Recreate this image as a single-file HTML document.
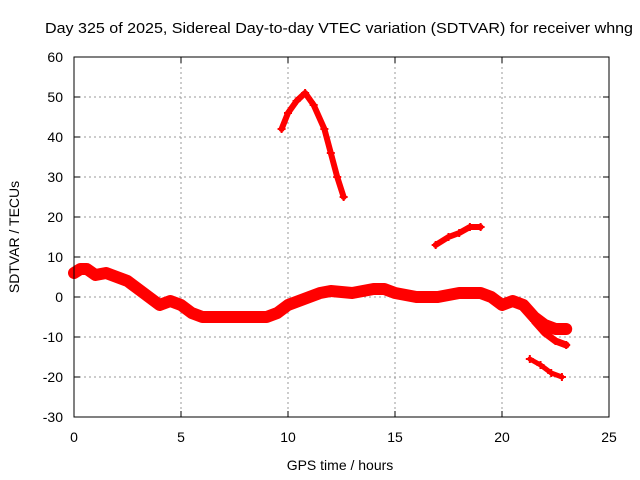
<!DOCTYPE html>
<html><head><meta charset="utf-8"><style>
body{margin:0;background:#fff}
svg{display:block;font-family:"Liberation Sans",sans-serif}
</style></head><body>
<svg id="c" width="640" height="480">
<rect width="640" height="480" fill="#fff"/>
<text x="45" y="33" font-size="15" textLength="588" lengthAdjust="spacingAndGlyphs">Day 325 of 2025, Sidereal Day-to-day VTEC variation (SDTVAR) for receiver whng</text>
<text x="340" y="470" font-size="14" text-anchor="middle">GPS time / hours</text>
<text transform="translate(19,237) rotate(-90)" font-size="14" text-anchor="middle">SDTVAR / TECUs</text>
<g id="grid"></g><g id="marks"></g>
<rect x="74" y="57" width="535" height="360" fill="none" stroke="#000"/>
</svg>
<script>
const xTicks=[0,5,10,15,20,25];
const yTicks=[-30,-20,-10,0,10,20,30,40,50,60];
const mainT=[0,0.3,0.6,1,1.5,2,2.5,3,3.5,4,4.5,5,5.5,6,7,8,9,9.5,10,10.5,11,11.5,12,13,14,14.5,15,16,17,18,19,19.5,20,20.5,21,21.5,22,22.5,23];
const mainV=[6,7,7,5.5,6,5,4,2,0,-2,-1,-2,-4,-5,-5,-5,-5,-4,-2,-1,0,1,1.5,1,2,2,1,0,0,1,1,0,-2,-1,-2,-5,-7,-8,-8];
const lowT=[21.5,22,22.5,23];
const lowV=[-6,-9,-11,-12];
const peakT=[9.7,10,10.4,10.8,11.2,11.7,12,12.3,12.6];
const peakV=[42,46,49,51,48,42,36,30,25];
const midT=[16.9,17.5,18,18.5,19];
const midV=[13,15,16,17.5,17.5];
const tailT=[21.3,21.8,22.3,22.8];
const tailV=[-15.5,-17,-19,-20];
const X=t=>74+t*535/25, Y=v=>297-v*4;
const ns="http://www.w3.org/2000/svg";
const g=document.getElementById('grid'),m=document.getElementById('marks');
function el(p,tag,a){const e=document.createElementNS(ns,tag);for(const k in a)e.setAttribute(k,a[k]);p.appendChild(e);return e;}
xTicks.forEach(t=>{
 if(t>0&&t<25){const l=el(g,'line',{x1:X(t),x2:X(t),y1:57,y2:417,stroke:'#999','stroke-dasharray':'2,3'});
 
 }
 el(g,'line',{x1:X(t),x2:X(t),y1:417,y2:411,stroke:'#000'});el(g,'line',{x1:X(t),x2:X(t),y1:57,y2:63,stroke:'#000'});
 const tx=el(g,'text',{x:X(t),y:442,'font-size':14,'text-anchor':'middle'});tx.textContent=t;
 
 
});
yTicks.forEach(v=>{
 if(v>-30&&v<60){const l=el(g,'line',{x1:74,x2:609,y1:Y(v),y2:Y(v),stroke:'#999','stroke-dasharray':'2,3'});
 
 }
 el(g,'line',{x1:74,x2:80,y1:Y(v),y2:Y(v),stroke:'#000'});el(g,'line',{x1:609,x2:603,y1:Y(v),y2:Y(v),stroke:'#000'});
 const tx=el(g,'text',{x:63,y:Y(v)+5,'font-size':14,'text-anchor':'end'});tx.textContent=v;
 
 
});
function series(T,V,w,name){
 const p=el(m,'polyline',{points:T.map((t,i)=>X(t)+','+Y(V[i])).join(' '),fill:'none',stroke:'#f00','stroke-width':w,'stroke-linejoin':'round','stroke-linecap':'round'});
 
 
 T.forEach((t,i)=>{const x=X(t),y=Y(V[i]);
  const k=el(m,'path',{d:`M${x-4},${y}h8M${x},${y-4}v8`,stroke:'#f00','stroke-width':2});
  
  });
}
series(mainT,mainV,12,'main-band');
series(lowT,lowV,7,'low-band');
series(peakT,peakV,6,'peak-arc');
series(midT,midV,6,'mid-segment');
series(tailT,tailV,5,'tail-segment');
</script>
</body></html>
